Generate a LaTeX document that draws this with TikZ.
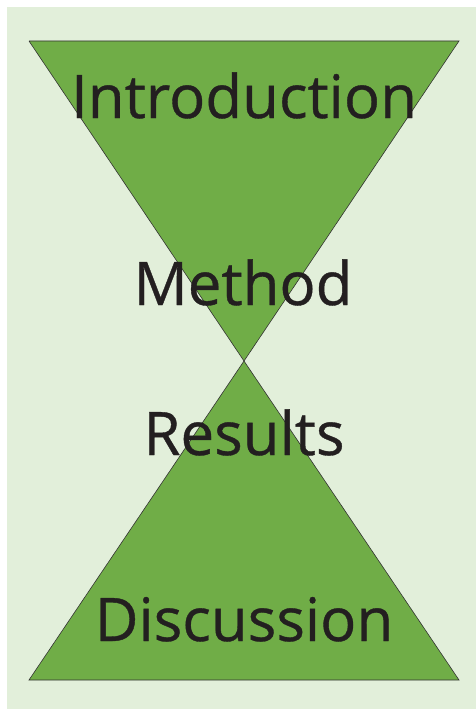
\documentclass[tikz,border=0pt]{standalone}
\usepackage{fontspec}
\setmainfont{Open Sans}
\newfontface\labelfont{Open Sans}[FakeBold=0.6]
\usetikzlibrary{calc}
\definecolor{bggreen}{RGB}{226,239,218}
\definecolor{hourgreen}{RGB}{112,173,71}
\definecolor{txtgray}{RGB}{35,31,32}

\begin{document}
\begin{tikzpicture}[x=1pt,y=-1pt]
\tikzstyle{label}=[text=txtgray,font=\labelfont\fontsize{60}{66}\selectfont,anchor=base,inner sep=0pt,outer sep=0pt]
\tikzstyle{glass}=[fill=hourgreen,draw=black!80,line width=0.6pt,line join=miter]

	\useasboundingbox (0,0) rectangle (476,709);
	\fill[bggreen] (7,7) rectangle (476,709);

	% top and bottom triangle of the hourglass
	\draw [glass] plot[] coordinates { (29,41) (459,41) (244,361) (29,41) };
	\draw [glass] plot[] coordinates { (244,361) (459,680) (29,680) (244,361) };

	\node (intro) [label] at (244,118) {Introduction};
	\node (method) [label] at (243,305) {Method};
	\node (results) [label] at (244,455) {Results};
	\node (discussion) [label] at (244,641) {Discussion};

\end{tikzpicture}
\end{document}
